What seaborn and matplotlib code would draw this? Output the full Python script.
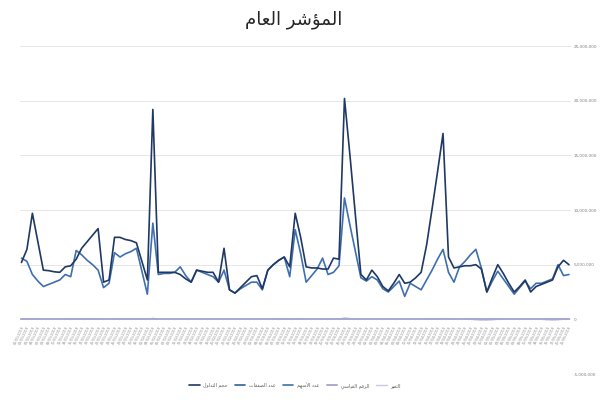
import pandas as pd
import seaborn as sns
import matplotlib.pyplot as plt
from matplotlib.ticker import FuncFormatter

# values in millions (101 trading days)
trade_volume = [5.2, 6.4, 9.7, 7.1, 4.5, 4.45, 4.35, 4.3, 4.8, 4.9,
                5.5, 6.5, 7.1, 7.7, 8.3, 3.4, 3.6, 7.5, 7.5, 7.3,
                7.2, 7.0, 5.3, 3.6, 19.2, 4.3, 4.3, 4.3, 4.3, 4.1,
                3.7, 3.4, 4.5, 4.4, 4.3, 4.3, 3.4, 6.5, 2.7, 2.4,
                2.9, 3.4, 3.9, 4.0, 2.8, 4.5, 5.0, 5.4, 5.7, 4.8,
                9.7, 7.5, 4.8, 4.7, 4.7, 4.6, 4.6, 5.6, 5.5, 20.2,
                15.0, 9.5, 4.1, 3.6, 4.5, 3.9, 3.0, 2.6, 3.3, 4.1,
                3.3, 3.4, 3.8, 4.3, 6.8, 10.1, 13.5, 17.0, 5.7, 4.7,
                4.8, 4.9, 4.9, 5.0, 4.6, 2.5, 3.8, 5.0, 4.2, 3.3,
                2.5, 3.0, 3.6, 2.5, 3.0, 3.2, 3.4, 3.6, 4.8, 5.4, 5.0]
shares_count = [5.6, 5.3, 4.1, 3.5, 3.0, 3.2, 3.4, 3.6, 4.1, 3.9,
                6.3, 5.9, 5.4, 5.0, 4.5, 2.9, 3.3, 6.1, 5.7, 6.0,
                6.2, 6.5, 4.4, 2.3, 8.8, 4.1, 4.2, 4.2, 4.3, 4.8,
                4.0, 3.4, 4.5, 4.3, 4.1, 3.9, 3.4, 4.5, 2.7, 2.4,
                2.8, 3.1, 3.4, 3.4, 2.7, 4.5, 5.0, 5.4, 5.7, 3.9,
                8.2, 6.0, 3.4, 4.0, 4.6, 5.6, 4.1, 4.3, 4.9, 11.1,
                8.6, 6.2, 3.8, 3.5, 3.9, 3.6, 2.8, 2.5, 3.0, 3.5,
                2.1, 3.3, 3.0, 2.7, 3.6, 4.5, 5.5, 6.4, 4.3, 3.4,
                4.8, 5.3, 5.9, 6.4, 4.7, 2.5, 3.5, 4.4, 3.7, 3.0,
                2.3, 2.9, 3.5, 2.8, 3.3, 3.3, 3.5, 3.7, 5.0, 4.0, 4.1]
deals_count = [0.03, 0.03, 0.04, 0.03, 0.02, 0.02, 0.02, 0.02, 0.03, 0.03,
               0.03, 0.03, 0.03, 0.03, 0.03, 0.02, 0.02, 0.03, 0.03, 0.03,
               0.03, 0.03, 0.03, 0.02, 0.06, 0.02, 0.02, 0.02, 0.02, 0.02,
               0.02, 0.02, 0.02, 0.02, 0.02, 0.02, 0.02, 0.03, 0.02, 0.02,
               0.02, 0.02, 0.02, 0.02, 0.02, 0.02, 0.03, 0.03, 0.03, 0.02,
               0.04, 0.03, 0.02, 0.02, 0.02, 0.03, 0.02, 0.03, 0.03, 0.07,
               0.05, 0.03, 0.02, 0.02, 0.02, 0.02, 0.02, 0.02, 0.02, 0.02,
               0.02, 0.02, 0.02, 0.02, 0.03, 0.04, 0.04, 0.05, 0.03, 0.02,
               0.02, 0.03, 0.03, 0.03, 0.02, 0.02, 0.02, 0.03, 0.02, 0.02,
               0.02, 0.02, 0.02, 0.02, 0.02, 0.02, 0.02, 0.02, 0.03, 0.03, 0.03]
index_level = [0.008] * 101
change = [0.0, 0.0, 0.0, 0.0, 0.0, 0.0, 0.0, 0.0, 0.0, 0.0,
          0.0, 0.0, 0.0, 0.0, 0.0, 0.0, 0.0, 0.0, 0.0, 0.0,
          0.0, 0.0, 0.0, 0.0, 0.0, 0.0, 0.0, 0.0, 0.0, 0.0,
          0.0, 0.0, 0.0, 0.0, 0.0, 0.0, 0.0, 0.0, 0.0, 0.0,
          0.0, 0.0, 0.0, 0.0, 0.0, 0.0, 0.0, 0.0, 0.0, 0.0,
          0.0, 0.0, 0.0, 0.0, 0.0, 0.0, 0.0, 0.0, 0.0, 0.0,
          0.0, 0.0, 0.0, 0.0, 0.0, 0.0, 0.0, 0.0, 0.0, 0.0,
          0.0, 0.0, 0.0, 0.0, 0.0, 0.0, 0.0, 0.0, 0.0, 0.0,
          0.0, 0.0, 0.0, -0.05, -0.08, -0.08, -0.05, 0.0, 0.0, 0.0,
          0.0, 0.0, 0.0, 0.0, 0.0, 0.0, -0.05, -0.08, -0.05, 0.0, 0.0]
dates = list(pd.bdate_range("2019-01-01", periods=101).strftime("%d/%m/%Y"))

title = "المؤشر العام"
labels = ["حجم التداول", "عدد الصفقات", "عدد الأسهم", "الرقم القياسي", "التغير"]

# matplotlib does no arabic shaping, so pick presentation forms by hand
# letter -> (isolated form, number of forms: 2 = joins right only, 4 = both)
FORMS = {
    "ا": (0xFE8D, 2), "أ": (0xFE83, 2), "إ": (0xFE87, 2), "آ": (0xFE81, 2),
    "ؤ": (0xFE85, 2), "ب": (0xFE8F, 4), "ة": (0xFE93, 2), "ت": (0xFE95, 4),
    "ث": (0xFE99, 4), "ج": (0xFE9D, 4), "ح": (0xFEA1, 4), "خ": (0xFEA5, 4),
    "د": (0xFEA9, 2), "ذ": (0xFEAB, 2), "ر": (0xFEAD, 2), "ز": (0xFEAF, 2),
    "س": (0xFEB1, 4), "ش": (0xFEB5, 4), "ص": (0xFEB9, 4), "ض": (0xFEBD, 4),
    "ط": (0xFEC1, 4), "ظ": (0xFEC5, 4), "ع": (0xFEC9, 4), "غ": (0xFECD, 4),
    "ف": (0xFED1, 4), "ق": (0xFED5, 4), "ك": (0xFED9, 4), "ل": (0xFEDD, 4),
    "م": (0xFEE1, 4), "ن": (0xFEE5, 4), "ه": (0xFEE9, 4), "و": (0xFEED, 2),
    "ى": (0xFEEF, 2), "ي": (0xFEF1, 4),
}
LAM_ALEF = {"ا": 0xFEFB, "أ": 0xFEF7, "إ": 0xFEF9, "آ": 0xFEF5}


def shape(text):
    out = []
    for word in text.split(" "):
        chars = []
        i = 0
        while i < len(word):
            if word[i] == "ل" and i + 1 < len(word) and word[i + 1] in LAM_ALEF:
                chars.append(("LA", word[i + 1]))
                i += 2
            else:
                chars.append(("C", word[i]))
                i += 1
        glyphs = []
        for k, (kind, ch) in enumerate(chars):
            prev_joins = k > 0 and chars[k - 1][0] == "C" and FORMS.get(chars[k - 1][1], (0, 2))[1] == 4
            if kind == "LA":
                glyphs.append(chr(LAM_ALEF[ch] + (1 if prev_joins else 0)))
                continue
            if ch not in FORMS:
                glyphs.append(ch)
                continue
            base, n = FORMS[ch]
            next_ok = k + 1 < len(chars) and (chars[k + 1][0] == "LA" or chars[k + 1][1] in FORMS)
            joins_next = n == 4 and next_ok
            if prev_joins and joins_next:
                glyphs.append(chr(base + 3))
            elif prev_joins:
                glyphs.append(chr(base + 1))
            elif joins_next:
                glyphs.append(chr(base + 2))
            else:
                glyphs.append(chr(base))
        out.append("".join(glyphs))
    return " ".join(out)[::-1]


df = pd.DataFrame({
    "day": range(len(dates)),
    labels[0]: trade_volume,
    labels[1]: deals_count,
    labels[2]: shares_count,
    labels[3]: index_level,
    labels[4]: change,
})

sns.set_style("white")
plt.rcParams["font.family"] = ["DejaVu Sans"]

fig = plt.figure(figsize=(6, 4), dpi=100)
ax = fig.add_axes([0.033, 0.065, 0.918, 0.82])

styles = {
    labels[1]: ("#2e5fa3", 1.2),
    labels[4]: ("#c9c9e0", 1.0),
    labels[3]: ("#a9a9d2", 1.4),
    labels[2]: ("#3f6fae", 1.2),
    labels[0]: ("#1f3864", 1.2),
}
for name in [labels[1], labels[4], labels[3], labels[2], labels[0]]:
    color, lw = styles[name]
    sns.lineplot(data=df, x="day", y=name, color=color, linewidth=lw, ax=ax,
                 label=shape(name))

# category labels sit on the zero line, like the spreadsheet chart
ax.spines["bottom"].set_position(("data", 0))
ax.set_ylim(-5, 25)
ax.set_yticks([-5, 0, 5, 10, 15, 20, 25])
ax.yaxis.set_major_formatter(FuncFormatter(lambda v, p: f"{int(v * 1e6):,}"))
ax.yaxis.tick_right()
ax.set_xlim(-0.3, len(dates) - 0.7)
ax.set_xticks(range(len(dates)))
ax.set_xticklabels(dates, rotation=65, ha="right", rotation_mode="anchor")
ax.tick_params(axis="x", labelsize=2.5, colors="#8c8c8c", length=0, pad=4)
ax.tick_params(axis="y", labelsize=3.0, colors="#7f7f7f", length=0, pad=2)
ax.grid(axis="y", color="#e6e6e6", linewidth=0.7)
ax.set_axisbelow(True)
for s in ax.spines.values():
    s.set_visible(False)
ax.set_xlabel("")
ax.set_ylabel("")

handles, names = ax.get_legend_handles_labels()
order = [names.index(shape(n)) for n in labels]
ax.legend([handles[i] for i in order], [names[i] for i in order],
          loc="center", bbox_to_anchor=(0.5, -0.035), ncol=5, frameon=False,
          fontsize=3.4, handlelength=2.2, columnspacing=1.5, labelcolor="#595959")

fig.suptitle(shape(title), x=0.49, y=0.975, fontsize=13, color="#262626")

plt.savefig("out.png", dpi=100)
plt.close()
